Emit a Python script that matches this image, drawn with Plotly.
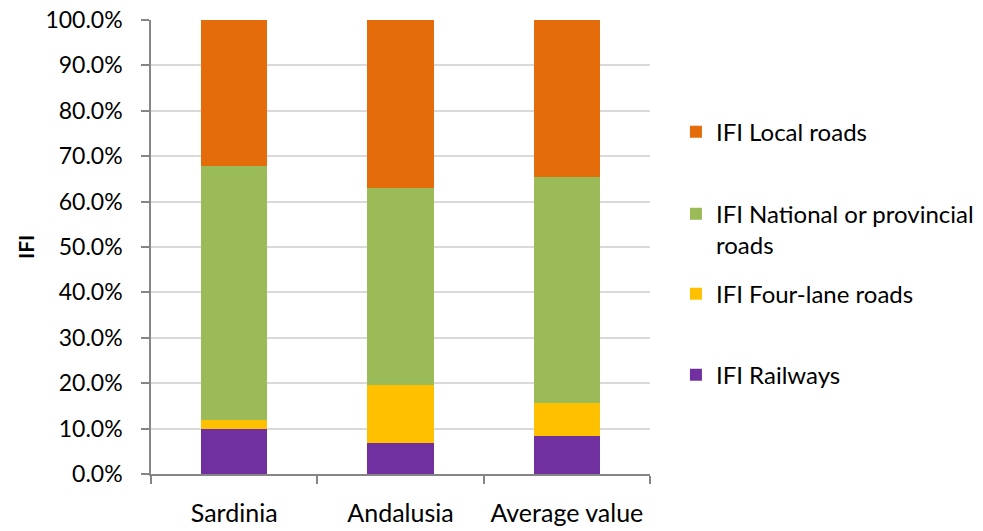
import plotly.graph_objects as go

# Regions compared
regions = ["Sardinia", "Andalusia", "Average value"]

# Share of IFI by infrastructure type (%), stacked bottom to top
ifi_railways = [10.0, 6.9, 8.45]
ifi_four_lane = [1.9, 12.6, 7.25]
ifi_national = [55.9, 43.5, 49.7]
ifi_local = [32.2, 37.0, 34.6]

y_ticks = [0, 10, 20, 30, 40, 50, 60, 70, 80, 90, 100]

FONT = "Lato"

series = [
    ("IFI Railways", ifi_railways, "#7030A0", "legend4"),
    ("IFI Four-lane roads", ifi_four_lane, "#FFC000", "legend3"),
    ("IFI National or provincial<br>roads", ifi_national, "#9BBB59", "legend2"),
    ("IFI Local roads", ifi_local, "#E46C0A", "legend"),
]

fig = go.Figure()
for name, vals, color, leg in series:
    fig.add_trace(go.Bar(
        x=regions, y=vals, name=name, legend=leg, showlegend=True,
        marker=dict(color=color, line=dict(width=0)),
        hoverinfo="skip",
    ))

leg_common = dict(
    x=1.052, xanchor="left", yanchor="middle",
    font=dict(family=FONT, size=24, color="#000000"),
    bgcolor="rgba(0,0,0,0)", borderwidth=0,
    itemclick=False, itemdoubleclick=False,
    visible=True,
)

fig.update_layout(
    width=983, height=531,
    margin=dict(l=151, r=333, t=20, b=57, autoexpand=False),
    paper_bgcolor="white", plot_bgcolor="white",
    barmode="stack", bargap=0.6,
    showlegend=True,
    font=dict(family=FONT, size=24, color="#000000"),
    legend=dict(y=0.753, **leg_common),
    legend2=dict(y=0.538, valign="top", **leg_common),
    legend3=dict(y=0.396, **leg_common),
    legend4=dict(y=0.218, **leg_common),
    xaxis=dict(
        type="category", automargin=False,
        showline=True, linecolor="#868686", linewidth=1.5,
        ticks="outside", tickson="boundaries", ticklen=8,
        tickcolor="#868686", tickwidth=1.5,
        ticklabelstandoff=16,
        tickfont=dict(family=FONT, size=25, color="#000000"),
        showgrid=False,
    ),
    yaxis=dict(
        range=[0, 100], tickvals=y_ticks, automargin=False,
        ticktext=[f"{v:.1f}%" for v in y_ticks],
        showline=True, linecolor="#868686", linewidth=1.5,
        ticks="outside", ticklen=8, tickcolor="#868686", tickwidth=1.5,
        ticklabelstandoff=14,
        showgrid=True, gridcolor="#D9D9D9", gridwidth=1.5,
        zeroline=False,
        tickfont=dict(family=FONT, size=23, color="#000000"),
    ),
    annotations=[dict(
        text="<b>IFI</b>", textangle=-90, showarrow=False,
        xref="paper", yref="paper", x=-0.2525, y=0.5,
        xanchor="center", yanchor="middle",
        font=dict(family=FONT, size=21, color="#000000"),
    )],
)

fig.write_html("out.html")
